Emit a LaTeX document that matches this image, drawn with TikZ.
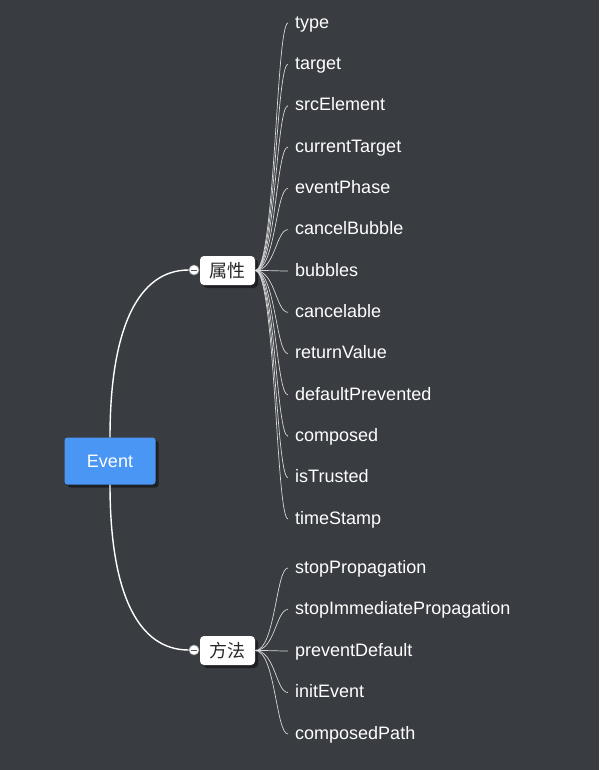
\documentclass[tikz,border=0pt]{standalone}
\usepackage{fontspec}
\setmainfont{Liberation Sans}
\newfontfamily\cjk{Noto Sans CJK SC}
\usetikzlibrary{shadows}
\definecolor{bg}{RGB}{57,60,65}
\definecolor{evblue}{RGB}{74,150,245}
\definecolor{twigc}{RGB}{215,215,215}
\definecolor{darktext}{RGB}{40,40,40}
\begin{document}
\begin{tikzpicture}[x=1pt,y=-1pt,
  leaf/.style={anchor=west, inner sep=0pt, text=white, font=\fontsize{18}{21}\selectfont, text height=13pt, text depth=3.5pt},
  rootbox/.style={fill=evblue, text=white, rounded corners=3pt, minimum width=91pt, minimum height=47pt, font=\fontsize{18}{21}\selectfont, drop shadow={shadow xshift=3pt, shadow yshift=-3pt, opacity=0.45, fill=black}},
  branchbox/.style={fill=white, text=darktext, rounded corners=4pt, minimum width=55pt, minimum height=29pt, inner sep=0pt, font=\cjk\fontsize{18}{21}\selectfont, drop shadow={shadow xshift=3pt, shadow yshift=-3pt, opacity=0.45, fill=black}},
  knob/.style={circle, fill=white, draw=gray!80, line width=0.6pt, minimum size=10pt, inner sep=0pt},
  mainline/.style={draw=white, line width=1.4pt},
  twig/.style={draw=twigc, line width=0.7pt},
  minus/.style={draw=gray!70!black, line width=1pt}
]
\fill[bg] (0,0) rectangle (599,770);
\useasboundingbox (0,0) rectangle (599,770);

\node[knob] (pk) at (194,270) {};
\node[knob] (mk) at (194,650) {};
\draw[minus] ([xshift=-3pt]pk.center) -- ([xshift=3pt]pk.center);
\draw[minus] ([xshift=-3pt]mk.center) -- ([xshift=3pt]mk.center);

\node[rootbox] (ev) at (110,461) {Event};
\draw[mainline] (ev.north) .. controls +(0,-110) and +(-50,0) .. (pk.west);
\draw[mainline] (ev.south) .. controls +(0,110) and +(-50,0) .. (mk.west);

\node[branchbox] (prop) at (227.5,270.5) {属性};
\node[branchbox] (meth) at (227.5,650.5) {方法};

\foreach \t [count=\i] in {type,target,srcElement,currentTarget,eventPhase,cancelBubble,bubbles,cancelable,returnValue,defaultPrevented,composed,isTrusted,timeStamp}{
  \node[leaf] (p\i) at (295,{23.5+(\i-1)*41.33}) {\t};
  \draw[twig] (prop.east) .. controls +(20,0) and +(-12,0) .. ([xshift=-7pt,yshift=0.5pt]p\i.west);
}
\foreach \t [count=\i] in {stopPropagation,stopImmediatePropagation,preventDefault,initEvent,composedPath}{
  \node[leaf] (m\i) at (295,{568.5+(\i-1)*41.5}) {\t};
  \draw[twig] (meth.east) .. controls +(20,0) and +(-12,0) .. ([xshift=-7pt,yshift=0.5pt]m\i.west);
}
\end{tikzpicture}
\end{document}
